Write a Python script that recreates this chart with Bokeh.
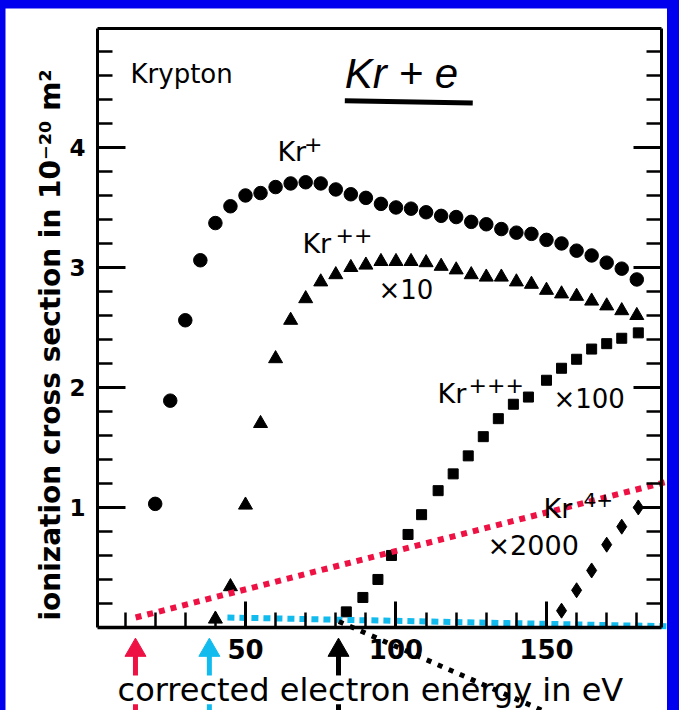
import math
from bokeh.plotting import figure
from bokeh.models import (LinearAxis, FixedTicker, Range1d, Label)
from bokeh.embed import file_html
from bokeh.resources import INLINE

# ---------------- data ----------------
kr1_energy = [20, 25, 30, 35, 40, 45, 50, 55, 60, 65, 70, 75, 80, 85, 90, 95, 100,
              105, 110, 115, 120, 125, 130, 135, 140, 145, 150, 155, 160, 165, 170, 175, 180]
kr1_sigma = [1.03, 1.89, 2.56, 3.06, 3.37, 3.51, 3.60, 3.62, 3.67, 3.70, 3.71, 3.70, 3.65,
             3.61, 3.58, 3.53, 3.50, 3.49, 3.46, 3.43, 3.42, 3.38, 3.36, 3.32, 3.29, 3.28,
             3.23, 3.20, 3.14, 3.10, 3.04, 2.99, 2.90]

kr2_energy = [40, 45, 50, 55, 60, 65, 70, 75, 80, 85, 90, 95, 100, 105, 110, 115, 120,
              125, 130, 135, 140, 145, 150, 155, 160, 165, 170, 175, 180]
kr2_sigma_x10 = [0.07, 0.34, 1.02, 1.70, 2.24, 2.56, 2.74, 2.88, 2.94, 3.00, 3.02, 3.05,
                 3.05, 3.05, 3.04, 3.01, 2.98, 2.94, 2.92, 2.92, 2.88, 2.86, 2.81, 2.78,
                 2.76, 2.72, 2.68, 2.64, 2.60]

kr3_energy = [83.5, 89, 94, 98.5, 104, 108.5, 114, 119, 124, 129, 134, 139, 144, 150,
              155, 160, 165, 170, 175, 180.5]
kr3_sigma_x100 = [0.13, 0.25, 0.40, 0.60, 0.775, 0.94, 1.14, 1.28, 1.43, 1.59, 1.74, 1.86,
                  1.92, 2.06, 2.16, 2.235, 2.32, 2.365, 2.41, 2.455]

kr4_energy = [155, 160, 165, 170, 175, 180.5]
kr4_sigma_x2000 = [0.14, 0.31, 0.475, 0.69, 0.84, 1.0]

x_major_ticks = [50, 100, 150]
x_minor_ticks = [10, 20, 30, 40, 60, 70, 80, 90, 110, 120, 130, 140, 160, 170, 180]
y_major_ticks = [1, 2, 3, 4]
y_minor_ticks = [0.2, 0.4, 0.6, 0.8, 1.2, 1.4, 1.6, 1.8, 2.2, 2.4, 2.6, 2.8,
                 3.2, 3.4, 3.6, 3.8, 4.2, 4.4, 4.6, 4.8]

x_title = "corrected electron energy in eV"
y_title = "ionization cross section in 10\u207b\u00b2\u2070 m\u00b2"

# hand-drawn annotations of the slide (energies of the marked thresholds)
arrow_energies = [13.45, 38.0, 80.9]
arrow_colors = ["#ee1144", "#11bbee", "black"]

# ---------------- figure ----------------
FONT = "DejaVu Sans"
# visible plot box (data units)
BX0, BX1 = 0.8, 188.2
BY0, BY1 = 0.0, 4.99
# whole canvas is the drawing frame; axes are placed at fixed locations inside it
XS, XE = -29.73, 190.2
YS, YE = -0.692, 5.158
p = figure(width=662, height=702, output_backend="svg", toolbar_location=None,
           x_range=Range1d(XS, XE), y_range=Range1d(YS, YE),
           x_axis_location=None, y_axis_location=None,
           min_border_left=0, min_border_right=0, min_border_top=0, min_border_bottom=0)
p.grid.visible = False
p.outline_line_color = None
p.background_fill_color = "white"
p.border_fill_color = "white"


def style_axis(ax):
    ax.axis_line_width = 3
    ax.axis_line_color = "black"
    ax.major_tick_line_width = 3
    ax.minor_tick_line_width = 2.5
    ax.major_tick_line_color = "black"
    ax.minor_tick_line_color = "black"
    ax.major_tick_in = 28
    ax.major_tick_out = 0
    ax.minor_tick_in = 15
    ax.minor_tick_out = 0
    ax.major_label_text_color = "black"


xb = LinearAxis(ticker=FixedTicker(ticks=x_major_ticks, minor_ticks=x_minor_ticks),
                fixed_location=BY0, bounds=(BX0, BX1))
style_axis(xb)
xb.axis_line_width = 3.5
xb.major_tick_in = 26
xb.major_label_text_font = FONT
xb.major_label_text_font_style = "bold"
xb.major_label_text_font_size = "26px"
xb.major_label_standoff = 12
p.add_layout(xb, "below")

xt = LinearAxis(ticker=FixedTicker(ticks=[], minor_ticks=[]),
                fixed_location=BY1, bounds=(BX0, BX1))
style_axis(xt)
p.add_layout(xt, "above")

yl = LinearAxis(ticker=FixedTicker(ticks=y_major_ticks, minor_ticks=y_minor_ticks),
                fixed_location=BX0, bounds=(BY0, BY1))
style_axis(yl)
yl.major_label_text_font = FONT
yl.major_label_text_font_style = "bold"
yl.major_label_text_font_size = "23px"
yl.major_label_standoff = 12
p.add_layout(yl, "left")

yr = LinearAxis(ticker=FixedTicker(ticks=y_major_ticks, minor_ticks=y_minor_ticks),
                fixed_location=BX1, bounds=(BY0, BY1),
                major_label_overrides={t: "" for t in y_major_ticks})
style_axis(yr)
p.add_layout(yr, "right")

# ---------------- data markers ----------------
p.scatter(kr1_energy, kr1_sigma, marker="circle", size=13.5, color="black")
p.scatter(kr2_energy, kr2_sigma_x10, marker="triangle", size=14, color="black")
p.scatter(kr3_energy, kr3_sigma_x100, marker="square", size=10, color="black")
p.scatter(kr4_energy, kr4_sigma_x2000, marker="diamond", size=15, color="black")


# ---------------- texts ----------------
def lab(x, y, text, size, style="normal", font=FONT, align="left", angle=0.0):
    p.add_layout(Label(x=x, y=y, text=text, text_font=font, text_font_size=size,
                       text_font_style=style, text_baseline="middle", text_align=align,
                       angle=angle, text_color="black"))


# axis titles
lab(-14.8, 0.058, y_title, "28px", style="bold", angle=math.pi / 2)
lab(91.5, -0.525, x_title, "32px", align="center")

lab(11.8, 4.61, "Krypton", "26px")
lab(83.0, 4.62, "Kr + e", "42px", style="italic", font="Liberation Sans")
lab(60.6, 3.97, "Kr", "27px")
lab(69.4, 4.03, "+", "22px")
lab(68.9, 3.20, "Kr", "27px")
lab(79.9, 3.27, "++", "22px")
lab(94.2, 2.81, "\u00d710", "26px")
lab(113.8, 1.946, "Kr", "27px")
lab(124.1, 2.017, "+++", "22px")
lab(152.3, 1.90, "\u00d7100", "26px")
lab(149.0, 0.99, "Kr", "27px")
lab(162.3, 1.06, "4+", "20px")
lab(130.4, 0.683, "\u00d72000", "27px")

# underline of the handwritten title
p.line([83.0, 125.5], [4.39, 4.37], line_color="black", line_width=5)

# ---------------- coloured annotation lines and arrows ----------------
p.line([13.5, 194.0], [0.083, 1.24], line_color=arrow_colors[0], line_width=6,
       line_dash="6 6")
p.line([44.0, 194.2], [0.083, 0.008], line_color=arrow_colors[1], line_width=6,
       line_dash="7 5")
p.line([81.0, 154.7], [0.05, -0.758], line_color=arrow_colors[2], line_width=5,
       line_dash="5 7")

p.segment(x0=arrow_energies, y0=[-0.40] * 3, x1=arrow_energies, y1=[-0.2] * 3,
          line_color=arrow_colors, line_width=5)
p.segment(x0=arrow_energies, y0=[-0.64] * 3, x1=arrow_energies, y1=[-0.7] * 3,
          line_color=arrow_colors, line_width=5)
p.scatter(arrow_energies, [-0.19] * 3, marker="triangle", size=21, color=arrow_colors)

html = file_html(p, INLINE, title="Krypton ionization cross sections")
html = html.replace(
    "</head>",
    "<style>html, body { background-color: #0000ee; margin: 0; }"
    " body { padding: 8px 0 0 5px; box-sizing: border-box; }</style></head>", 1)
open("out.html", "w").write(html)
